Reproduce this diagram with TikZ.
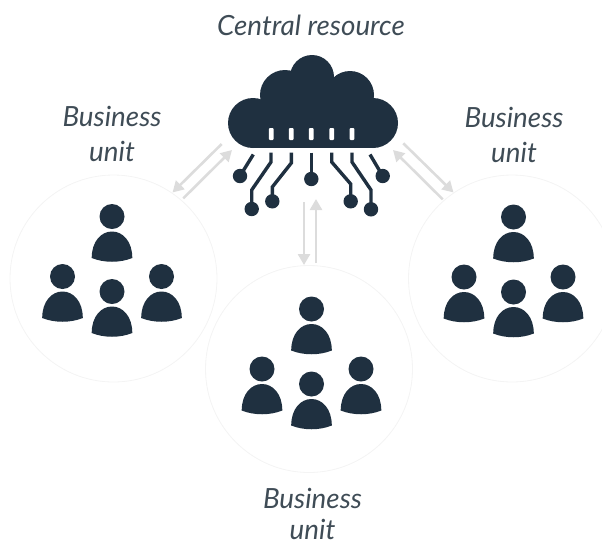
\documentclass[tikz,border=0pt]{standalone}
\usepackage{fontspec}
\setmainfont{Lato}
\usetikzlibrary{arrows.meta}
\definecolor{navy}{HTML}{1F3040}
\definecolor{flow}{HTML}{DCDCDC}
\definecolor{ring}{HTML}{F4F4F4}
\definecolor{labelgrey}{HTML}{3F4C56}
\tikzset{
  x=1pt,y=-1pt,
  labeltext/.style={text=labelgrey,font=\fontsize{27.8}{35}\selectfont\itshape,align=center,inner sep=0pt},
  unitring/.style={draw=ring,line width=0.8pt,fill=white},
  flowline/.style={draw=flow,line width=2.6pt},
  flowarrow/.style={flowline,-{Triangle[length=11pt,width=12pt]}},
  trace/.style={draw=navy,line width=3.4pt},
  tracedot/.style={fill=navy},
  slot/.style={fill=white,rounded corners=1pt},
  staff/.pic={
    \fill[navy] (0,0) circle (12.5);
    \fill[navy] (-20.3,41.5) .. controls (-20.3,25) and (-11,15) .. (0,15)
      .. controls (11,15) and (20.3,25) .. (20.3,41.5)
      .. controls (8,46.5) and (-8,46.5) .. cycle;
  },
  team/.pic={
    \pic at (0,0) {staff};
    \pic at (-49.5,60) {staff};
    \pic at (0,75) {staff};
    \pic at (49.5,60) {staff};
  }
}
\begin{document}
\begin{tikzpicture}
\useasboundingbox (0,0) rectangle (602,542);
\clip (0,0) rectangle (602,542);
% unit circles
\draw[unitring] (113.5,278.5) circle (103.5);
\draw[unitring] (512,278.5) circle (103.5);
\draw[unitring] (309,369) circle (103.5);
% people
\pic at (112,216.5) {team};
\pic at (513.5,217) {team};
\pic at (311.5,309) {team};
% cloud
\fill[navy] (253,123) circle (25);
\fill[navy] (373,123) circle (25);
\fill[navy] (285,95) circle (25);
\fill[navy] (350,95) circle (24);
\fill[navy] (312,77) circle (22);
\fill[navy] (253,110) rectangle (373,148);
\fill[navy] (285,85) rectangle (350,110);
\foreach \sx in {271.3,291.3,311.3,331.7,352}
  \fill[slot] (\sx-2.4,128) rectangle (\sx+2.4,140);
% traces
\draw[trace] (253.3,154.5) -- (240,176);
\draw[trace] (271,152.5) -- (271,162) -- (251.7,190) -- (251.7,209);
\draw[trace] (291.3,152.5) -- (291.3,163) -- (272.3,187) -- (272.3,201);
\draw[trace] (311.3,152.5) -- (311.3,179);
\draw[trace] (331.7,152.5) -- (331.7,162) -- (350.7,184) -- (350.7,201);
\draw[trace] (352,152.5) -- (352,162) -- (371,190) -- (371,209);
\draw[trace] (370,154.5) -- (382.7,176);
\foreach \dx/\dy in {240/176,251.7/209,272.3/201.3,311.3/179,350.7/201.3,371/209.3,382.7/176}
  \fill[tracedot] (\dx,\dy) circle (7.2);
% flow arrows
\coordinate (la) at (221.7,144);
\coordinate (lb) at (172.5,192.5);
\coordinate (lc) at (183.3,198.3);
\coordinate (ld) at (232,150);
\coordinate (ra) at (403.3,143.3);
\coordinate (rb) at (453.5,192.5);
\coordinate (rc) at (442.7,199.3);
\coordinate (rd) at (393,150);
\coordinate (ma) at (304,202);
\coordinate (mb) at (304,265);
\coordinate (mc) at (316,263);
\coordinate (md) at (316,199);
\draw[flowarrow] (la) -- (lb);
\draw[flowarrow] (lc) -- (ld);
\draw[flowarrow] (ra) -- (rb);
\draw[flowarrow] (rc) -- (rd);
\draw[flowarrow] (ma) -- (mb);
\draw[flowarrow] (mc) -- (md);
% labels
\node[labeltext] (central) at (311,25) {Central resource};
\node[labeltext] (leftunit) at (112,134) {Business\\unit};
\node[labeltext] (rightunit) at (514,135) {Business\\unit};
\node[labeltext] (bottomunit) at (312.5,514) {Business\\[-4.5pt]unit};
\end{tikzpicture}
\end{document}
